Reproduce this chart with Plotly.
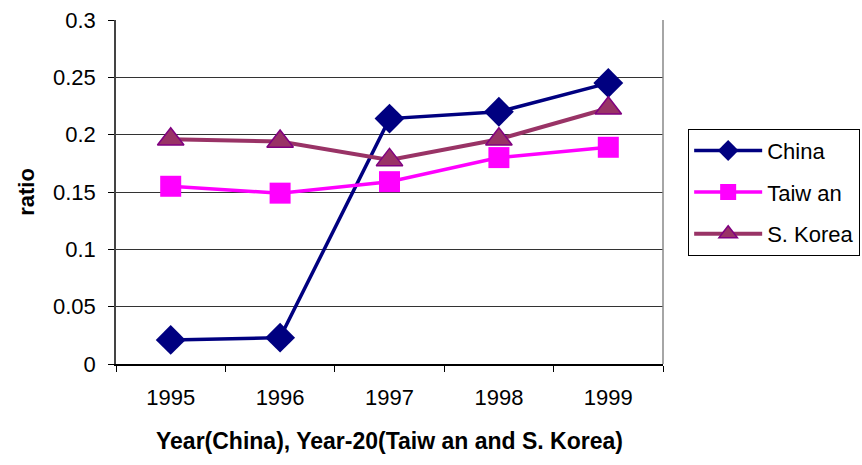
import plotly.graph_objects as go

years = ["1995", "1996", "1997", "1998", "1999"]
china = [0.021, 0.023, 0.214, 0.220, 0.245]
taiwan = [0.155, 0.149, 0.159, 0.180, 0.189]
korea = [0.196, 0.194, 0.178, 0.196, 0.223]
y_ticks = [0, 0.05, 0.1, 0.15, 0.2, 0.25, 0.3]
y_tick_text = ["0", "0.05", "0.1", "0.15", "0.2", "0.25", "0.3"]

FONT = "Liberation Sans, Arial, sans-serif"

fig = go.Figure()
fig.add_trace(go.Scatter(
    x=years, y=china, name="China", mode="lines+markers", legendgroup="a",
    line=dict(color="#000080", width=3.5),
    marker=dict(symbol="diamond", size=23, color="#000080", line=dict(width=0)),
))
fig.add_trace(go.Scatter(
    x=years, y=taiwan, name="Taiw an", mode="lines+markers", legendgroup="b",
    line=dict(color="#FF00FF", width=3.5),
    marker=dict(symbol="square", size=21, color="#FF00FF", line=dict(width=0)),
))
fig.add_trace(go.Scatter(
    x=years, y=korea, name="S. Korea", mode="lines+markers", legendgroup="c",
    line=dict(color="#993366", width=4),
    marker=dict(symbol="triangle-up", size=23, color="#993366",
                line=dict(width=1.5, color="#800080")),
))

fig.update_layout(
    width=862, height=465,
    margin=dict(l=116, r=199, t=20, b=101, autoexpand=False),
    paper_bgcolor="white", plot_bgcolor="white",
    font=dict(family=FONT, size=22, color="black"),
    showlegend=True,
    legend=dict(
        x=1.046, y=0.684, xanchor="left", yanchor="top",
        bordercolor="black", borderwidth=1, bgcolor="white",
        font=dict(family=FONT, size=22, color="black"),
        traceorder="grouped", tracegroupgap=10,
        itemwidth=68,
    ),
    xaxis=dict(
        type="category", range=[-0.5, 4.5], automargin=False,
        showgrid=False, showline=True, linecolor="black", linewidth=1.5,
        ticks="outside", tickson="boundaries", ticklen=6, tickcolor="black",
        tickfont=dict(family=FONT, size=22), ticklabelstandoff=13,
        mirror=False,
        title=dict(text="<b>Year(China), Year-20(Taiw an and S. Korea)</b>",
                   font=dict(family=FONT, size=23), standoff=24),
    ),
    yaxis=dict(
        range=[0, 0.3], tickvals=y_ticks, ticktext=y_tick_text, automargin=False,
        showgrid=True, gridcolor="#333333", gridwidth=1,
        showline=True, linecolor="#444444", linewidth=1.5,
        ticks="outside", ticklen=6, tickcolor="black",
        tickfont=dict(family=FONT, size=22), ticklabelstandoff=8,
        zeroline=False,
        title=dict(text="<b>ratio</b>", font=dict(family=FONT, size=22), standoff=12),
    ),
    shapes=[dict(type="line", xref="paper", yref="paper", x0=1, x1=1, y0=0, y1=1,
                 line=dict(color="#888888", width=1.5))],
)

fig.write_html("out.html")
